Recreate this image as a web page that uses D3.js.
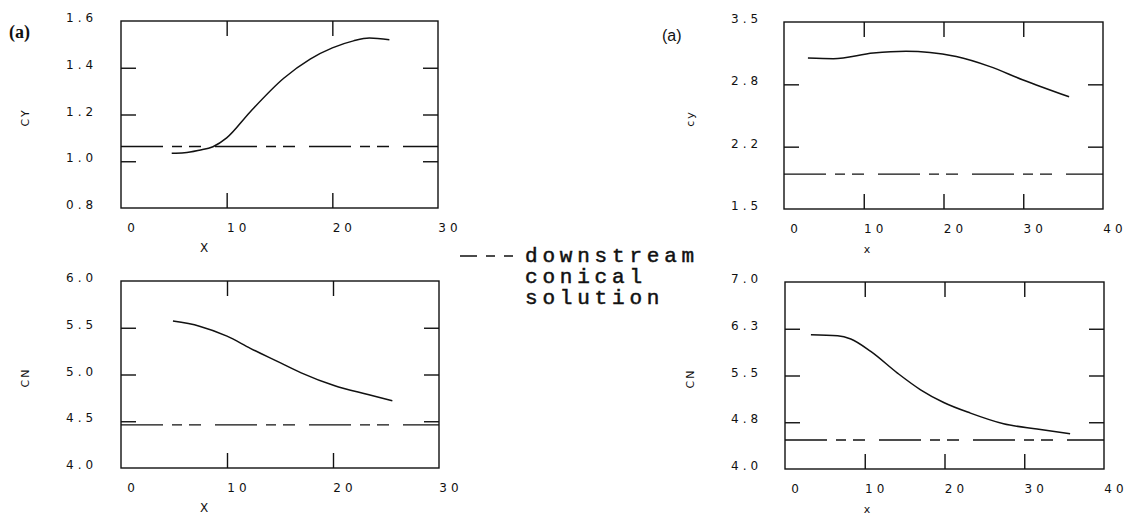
<!DOCTYPE html>
<html>
<head>
<meta charset="utf-8">
<script src="https://cdn.jsdelivr.net/npm/d3@7/dist/d3.min.js"></script>
<style>
  html, body { margin: 0; padding: 0; background: #fff; }
  svg { display: block; }
  .tick-label { font-family: "DejaVu Sans", sans-serif; font-size: 12px; letter-spacing: 4px; fill: #111; }
  .axis-title { font-family: "DejaVu Sans", sans-serif; font-size: 11px; letter-spacing: 2px; fill: #111; }
  .legend-text { font-family: "Liberation Mono", monospace; font-size: 21px; letter-spacing: 4.8px; fill: #111; stroke: #111; stroke-width: 0.5px; }
</style>
</head>
<body>
<svg id="chart" width="1128" height="518"></svg>
<script>
// Side force coefficient CY and normal force coefficient CN along x
// for two configurations, each compared with the downstream conical solution.

// Left configuration (x from 0 to 30)
const leftX = [0, 10, 20, 30];
const leftXLabels = ["0", "10", "20", "30"];

const cyLeftTicks = [0.8, 1.0, 1.2, 1.4, 1.6];
const cyLeftLabels = ["0.8", "1.0", "1.2", "1.4", "1.6"];
const cyLeftX = [4.8, 6.0, 7.4, 8.7, 10.0, 12.2, 15.4, 17.9, 20.0, 22.0, 23.5, 25.4];
const cyLeftY = [1.034, 1.036, 1.047, 1.062, 1.10, 1.21, 1.355, 1.437, 1.485, 1.515, 1.527, 1.52];
const cyLeftConical = 1.063;

const cnLeftTicks = [4.0, 4.5, 5.0, 5.5, 6.0];
const cnLeftLabels = ["4.0", "4.5", "5.0", "5.5", "6.0"];
const cnLeftX = [4.9, 7.4, 10.0, 12.2, 14.7, 17.0, 20.1, 23.3, 25.6];
const cnLeftY = [5.571, 5.517, 5.41, 5.28, 5.143, 5.018, 4.882, 4.786, 4.72];
const cnLeftConical = 4.462;

// Right configuration (x from 0 to 40)
const rightX = [0, 10, 20, 30, 40];
const rightXLabels = ["0", "10", "20", "30", "40"];

const cyRightTicks = [1.5, 2.1667, 2.8333, 3.5];
const cyRightLabels = ["1.5", "2.2", "2.8", "3.5"];
const cyRightX = [3.0, 6.2, 11.2, 15.3, 18.3, 21.6, 25.75, 29.9, 35.75];
const cyRightY = [3.115, 3.108, 3.168, 3.186, 3.175, 3.13, 3.025, 2.883, 2.70];
const cyRightConical = 1.874;

const cnRightTicks = [4.0, 4.75, 5.5, 6.25, 7.0];
const cnRightLabels = ["4.0", "4.8", "5.5", "6.3", "7.0"];
const cnRightX = [3.25, 6.6, 8.25, 10.75, 14.1, 17.0, 19.9, 23.25, 27.4, 31.6, 35.75];
const cnRightY = [6.154, 6.138, 6.085, 5.886, 5.539, 5.271, 5.067, 4.897, 4.726, 4.64, 4.565];
const cnRightConical = 4.465;

const legendLines = ["downstream", "conical", "solution"];

const svg = d3.select("#chart");
const ink = "#111";
const dashPattern = "42,9,10,7,12,14";
const tickLen = 15;

function panel(opt) {
  const x = d3.scaleLinear().domain(opt.xDomain).range([opt.left, opt.right]);
  const y = d3.scaleLinear().domain(opt.yDomain).range([opt.bottom, opt.top]);
  const g = svg.append("g");

  // frame
  g.append("rect")
    .attr("x", opt.left).attr("y", opt.top)
    .attr("width", opt.right - opt.left).attr("height", opt.bottom - opt.top)
    .attr("fill", "none").attr("stroke", ink).attr("stroke-width", 1.4);

  // inward ticks on all four sides (interior values only)
  const innerX = opt.xTicks.filter(v => v > opt.xDomain[0] && v < opt.xDomain[1]);
  const innerY = opt.yTicks.filter(v => v > opt.yDomain[0] + 1e-6 && v < opt.yDomain[1] - 1e-6);
  const sides = [
    [d3.axisTop(x).tickValues(innerX), `translate(0,${opt.bottom})`],
    [d3.axisBottom(x).tickValues(innerX), `translate(0,${opt.top})`],
    [d3.axisRight(y).tickValues(innerY), `translate(${opt.left},0)`],
    [d3.axisLeft(y).tickValues(innerY), `translate(${opt.right},0)`]
  ];
  sides.forEach(([ax, tr]) => {
    const a = g.append("g").attr("transform", tr).call(ax.tickSize(tickLen).tickFormat(""));
    a.select(".domain").remove();
    a.selectAll("line").attr("stroke", ink).attr("stroke-width", 1.4);
  });

  // y tick labels
  g.selectAll(".ylab").data(opt.yTicks).enter().append("text")
    .attr("class", "tick-label")
    .attr("x", opt.yLabelX)
    .attr("y", d => y(d) + 1)
    .text((d, i) => opt.yLabels[i]);

  // x tick labels
  g.selectAll(".xlab").data(opt.xTicks).enter().append("text")
    .attr("class", "tick-label")
    .attr("text-anchor", "middle")
    .attr("x", d => x(d) + 12)
    .attr("y", opt.bottom + 24)
    .text((d, i) => opt.xLabels[i]);

  // axis titles
  g.append("text").attr("class", "axis-title")
    .attr("text-anchor", "middle")
    .attr("x", opt.xTitleX).attr("y", opt.bottom + 44)
    .style("font-size", opt.xTitleSize + "px")
    .text(opt.xTitle);
  g.append("text").attr("class", "axis-title")
    .attr("text-anchor", "middle")
    .attr("transform", `translate(${opt.yTitleX},${(opt.top + opt.bottom) / 2 + 3}) rotate(-90)`)
    .text(opt.yTitle);

  // conical solution (dashed, across the whole frame)
  g.append("line")
    .attr("x1", x(opt.xDomain[0])).attr("x2", x(opt.xDomain[1]))
    .attr("y1", y(opt.conical)).attr("y2", y(opt.conical))
    .attr("stroke", ink).attr("stroke-width", 1.3)
    .attr("stroke-dasharray", dashPattern);

  // computed distribution
  const pts = opt.xs.map((v, i) => [v, opt.ys[i]]);
  g.append("path")
    .datum(pts)
    .attr("fill", "none").attr("stroke", ink).attr("stroke-width", 1.5)
    .attr("d", d3.line().x(d => x(d[0])).y(d => y(d[1])).curve(d3.curveMonotoneX));
}

panel({
  left: 121, right: 438, top: 21, bottom: 208,
  xDomain: [0, 30], yDomain: [0.8, 1.6],
  xTicks: leftX, xLabels: leftXLabels, yTicks: cyLeftTicks, yLabels: cyLeftLabels,
  yLabelX: 66, xTitle: "X", xTitleX: 205, xTitleSize: 12, yTitle: "CY", yTitleX: 29,
  xs: cyLeftX, ys: cyLeftY, conical: cyLeftConical
});
panel({
  left: 121, right: 439, top: 281, bottom: 468,
  xDomain: [0, 30], yDomain: [4.0, 6.0],
  xTicks: leftX, xLabels: leftXLabels, yTicks: cnLeftTicks, yLabels: cnLeftLabels,
  yLabelX: 66, xTitle: "X", xTitleX: 205, xTitleSize: 12, yTitle: "CN", yTitleX: 29,
  xs: cnLeftX, ys: cnLeftY, conical: cnLeftConical
});
panel({
  left: 784, right: 1103, top: 22, bottom: 209,
  xDomain: [0, 40], yDomain: [1.5, 3.5],
  xTicks: rightX, xLabels: rightXLabels, yTicks: cyRightTicks, yLabels: cyRightLabels,
  yLabelX: 731, xTitle: "x", xTitleX: 868, xTitleSize: 11, yTitle: "cy", yTitleX: 694,
  xs: cyRightX, ys: cyRightY, conical: cyRightConical
});
panel({
  left: 785, right: 1104, top: 282, bottom: 469,
  xDomain: [0, 40], yDomain: [4.0, 7.0],
  xTicks: rightX, xLabels: rightXLabels, yTicks: cnRightTicks, yLabels: cnRightLabels,
  yLabelX: 731, xTitle: "x", xTitleX: 868, xTitleSize: 11, yTitle: "CN", yTitleX: 694,
  xs: cnRightX, ys: cnRightY, conical: cnRightConical
});

// panel tags
svg.append("text").attr("x", 9).attr("y", 38)
  .style("font-family", "'Liberation Serif', serif").style("font-weight", "bold").style("font-size", "18px")
  .attr("fill", ink).text("(a)");
svg.append("text").attr("x", 662).attr("y", 41)
  .style("font-family", "'Liberation Sans', sans-serif").style("font-size", "16px")
  .attr("fill", ink).text("(a)");

// legend
svg.append("line")
  .attr("x1", 460).attr("x2", 513).attr("y1", 256).attr("y2", 256)
  .attr("stroke", ink).attr("stroke-width", 1.6)
  .attr("stroke-dasharray", "17,9,9,9,9");
svg.selectAll(".legend-text").data(legendLines).enter().append("text")
  .attr("class", "legend-text")
  .attr("x", 525)
  .attr("y", (d, i) => 262 + i * 21)
  .text(d => d);
</script>
</body>
</html>
